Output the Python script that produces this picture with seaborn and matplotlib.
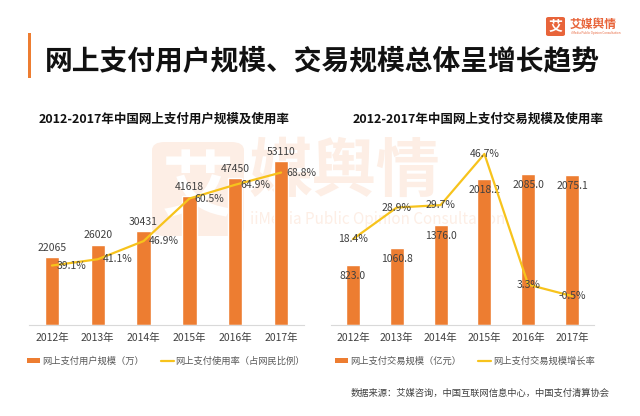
import matplotlib
matplotlib.use("Agg")
import matplotlib.pyplot as plt
from matplotlib.patches import FancyBboxPatch, Rectangle, Patch
from matplotlib.lines import Line2D
import seaborn as sns
import pandas as pd

# ---- data ----
years = ["2012年", "2013年", "2014年", "2015年", "2016年", "2017年"]
users = [22065, 26020, 30431, 41618, 47450, 53110]
usage_rate = [39.1, 41.1, 46.9, 60.5, 64.9, 68.8]
trade = [823.0, 1060.8, 1376.0, 2018.2, 2085.0, 2075.1]
trade_growth = [18.4, 28.9, 29.7, 46.7, 3.3, -0.5]

title = "网上支付用户规模、交易规模总体呈增长趋势"
sub_left = "2012-2017年中国网上支付用户规模及使用率"
sub_right = "2012-2017年中国网上支付交易规模及使用率"
leg_left = ["网上支付用户规模（万）", "网上支付使用率（占网民比例）"]
leg_right = ["网上支付交易规模（亿元）", "网上支付交易规模增长率"]
source = "数据来源：艾媒咨询，中国互联网信息中心，中国支付清算协会"

sns.set_theme(style="white")
plt.rcParams['font.family'] = ['Noto Sans CJK SC', 'DejaVu Sans']

BAR = "#ED7D31"
LINE = "#F7C31C"
TXT = "#404040"
WM = "#FDEEE5"

W, H = 640, 416
fig = plt.figure(figsize=(6.4, 4.16), dpi=100)
fig.patch.set_facecolor("white")

def fx(px):
    return px / W

def fy(py):
    return 1 - py / H

# ---- watermark ----
fig.patches.append(FancyBboxPatch((fx(152), fy(236)), fx(92), 94 / H,
                                  boxstyle="round,pad=0,rounding_size=0.02",
                                  transform=fig.transFigure, facecolor=WM,
                                  edgecolor="none", zorder=-5))
fig.text(fx(198), fy(190), "艾", fontsize=52, color="white", ha="center", va="center",
         fontweight="bold", zorder=-4)
fig.text(fx(248), fy(172), "媒舆情", fontsize=46, color=WM, ha="left", va="center",
         fontweight="bold", zorder=-4)
fig.text(fx(250), fy(220), "iiMedia Public Opinion Consultation", fontsize=11,
         color=WM, ha="left", va="center", zorder=-4)

# ---- header ----
fig.patches.append(Rectangle((fx(28), fy(78)), fx(3), 45 / H, transform=fig.transFigure,
                             facecolor=BAR, edgecolor="none"))
fig.text(fx(45), fy(62), title, fontsize=20, fontweight="bold", color="#111111",
         ha="left", va="center")
# logo
fig.patches.append(FancyBboxPatch((fx(546), fy(36)), fx(19), 19 / H,
                                  boxstyle="round,pad=0,rounding_size=0.004",
                                  transform=fig.transFigure, facecolor="#E8643A",
                                  edgecolor="none"))
fig.text(fx(555.5), fy(26.5), "艾", fontsize=10, color="white", fontweight="bold",
         ha="center", va="center")
fig.text(fx(570), fy(24), "艾媒舆情", fontsize=8.5, color="#E8643A", fontweight="bold",
         ha="left", va="center")
fig.text(fx(571), fy(33), "iiMedia Public Opinion Consultation", fontsize=2.2,
         color="#E8643A", ha="left", va="center")

fig.text(fx(164), fy(119), sub_left, fontsize=9, fontweight="bold", color="#111111",
         ha="center", va="center")
fig.text(fx(478), fy(119), sub_right, fontsize=9, fontweight="bold", color="#111111",
         ha="center", va="center")

ax_bottom = fy(325)
ax_h = 175 / H

def style_axes(ax, ax2):
    for a in (ax, ax2):
        a.set_facecolor("none")
        for s in ("top", "left", "right"):
            a.spines[s].set_visible(False)
        a.set_yticks([])
        a.set_ylabel("")
        a.set_xlabel("")
    ax2.spines["bottom"].set_visible(False)
    ax.spines["bottom"].set_color("#D9D9D9")
    ax.spines["bottom"].set_linewidth(0.8)
    ax.tick_params(axis="x", length=0, labelsize=7.5, labelcolor=TXT, pad=6)

# ---- left chart ----
axL = fig.add_axes([fx(29), ax_bottom, fx(275), ax_h])
dfL = pd.DataFrame({"year": years, "users": users, "rate": usage_rate})
sns.barplot(data=dfL, x="year", y="users", color=BAR, width=0.31, saturation=1,
            ax=axL, label=leg_left[0])
axL.set_ylim(0, 56673)
axL.set_xlim(-0.5, 5.5)
axL2 = axL.twinx()
sns.lineplot(data=dfL, x="year", y="rate", color=LINE, linewidth=1.6, sort=False,
             ax=axL2, label=leg_left[1])
axL2.set_ylim(20.1, 76.0)
style_axes(axL, axL2)
for i, v in enumerate(users):
    axL.annotate(f"{v}", (i, v), xytext=(0, 3), textcoords="offset points",
                 ha="center", va="bottom", fontsize=7.5, color=TXT)
for i, v in enumerate(usage_rate):
    axL2.annotate(f"{v:.1f}%", (i, v), xytext=(3.5, 0), textcoords="offset points",
                  ha="left", va="center", fontsize=7.5, color=TXT)

# ---- right chart ----
axR = fig.add_axes([fx(331), ax_bottom, fx(263), ax_h])
dfR = pd.DataFrame({"year": years, "trade": trade, "growth": trade_growth})
sns.barplot(data=dfR, x="year", y="trade", color=BAR, width=0.32, saturation=1,
            ax=axR, label=leg_right[0])
axR.set_ylim(0, 2416)
axR.set_xlim(-0.5, 5.5)
axR2 = axR.twinx()
sns.lineplot(data=dfR, x="year", y="growth", color=LINE, linewidth=1.6, sort=False,
             ax=axR2, label=leg_right[1])
axR2.set_ylim(-10.1, 48.0)
style_axes(axR, axR2)
for l in axR2.get_lines():
    l.set_clip_on(False)
for i, v in enumerate(trade):
    axR.annotate(f"{v:.1f}", (i, v), xytext=(0, -8), textcoords="offset points",
                 ha="center", va="center", fontsize=7.5, color=TXT)
for i, v in enumerate(trade_growth):
    axR2.annotate(f"{v:.1f}%", (i, v), xytext=(0, 0), textcoords="offset points",
                  ha="center", va="center", fontsize=7.5, color=TXT)

# ---- legends ----
for ax in (axL, axL2, axR, axR2):
    if ax.get_legend():
        ax.get_legend().remove()

def add_legend(labels, x_center):
    handles = [Patch(facecolor=BAR, edgecolor="none"),
               Line2D([0], [0], color=LINE, linewidth=1.6)]
    fig.legend(handles, labels, loc="center", bbox_to_anchor=(fx(x_center), fy(361)),
               ncol=2, frameon=False, fontsize=6.7, handlelength=1.4, handleheight=0.5,
               handletextpad=0.2, columnspacing=1.8, labelcolor="#595959")

add_legend(leg_left, 166)
add_legend(leg_right, 465)

fig.text(fx(610), fy(393), source, fontsize=6.7, color="#404040", ha="right", va="center")

fig.savefig("out.png", dpi=100)
